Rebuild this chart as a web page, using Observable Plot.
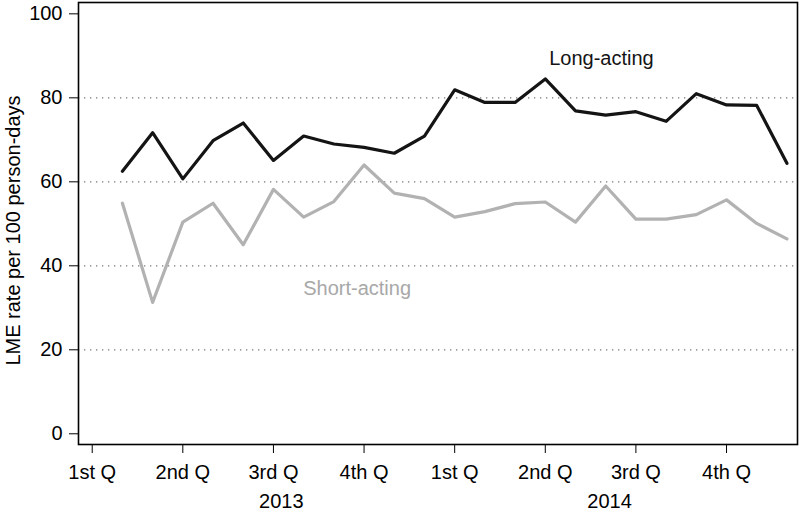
<!DOCTYPE html>
<html><head><meta charset="utf-8">
<script src="https://cdn.jsdelivr.net/npm/d3@7"></script>
<script src="https://cdn.jsdelivr.net/npm/@observablehq/plot@0.6"></script>
<style>body{margin:0;background:#fff} svg{display:block}</style>
</head><body><div id="chart"></div>
<script>
const months = [1,2,3,4,5,6,7,8,9,10,11,12,13,14,15,16,17,18,19,20,21,22,23];
const longActing = [62.5,71.7,60.7,69.8,74.0,65.1,70.9,69.0,68.2,66.8,70.9,81.9,78.9,78.9,84.5,76.9,75.9,76.7,74.4,81.0,78.3,78.2,64.4];
const shortActing = [54.9,31.3,50.4,54.9,45.0,58.2,51.6,55.3,64.0,57.3,56.0,51.6,52.9,54.8,55.2,50.4,59.0,51.1,51.1,52.2,55.7,50.1,46.4];
const quarterTicks = [0,3,6,9,12,15,18,21];
const quarterLabels = ["1st Q","2nd Q","3rd Q","4th Q","1st Q","2nd Q","3rd Q","4th Q"];
const years = ["2013","2014"];
const yearCenters = [6.26,17.13];
const yTicks = [0,20,40,60,80,100];
const gridValues = [20,40,60,80];
const seriesNames = ["Long-acting","Short-acting"];
const seriesLabelX = [16.86,8.77];
const seriesLabelY = [89.4,34.6];
const seriesColors = ["#141414","#b2b2b2"];
const labelColors = ["#141414","#a8a8a8"];
const yTitle = "LME rate per 100 person-days";

const chart = Plot.plot({
  width: 800, height: 513,
  marginLeft: 78, marginRight: 3, marginTop: 2, marginBottom: 69,
  style: {fontFamily: "'Liberation Sans', Arial, Helvetica, sans-serif", fontSize: "20px", color: "#000", background: "#fff"},
  x: {domain: [-0.454, 23.35]},
  y: {domain: [-2.55, 102.7]},
  marks: [
    Plot.ruleY(gridValues, {stroke: "#777", strokeDasharray: "1.3,4.7", strokeWidth: 1.2}),
    Plot.line(months, {x: months, y: shortActing, stroke: seriesColors[1], strokeWidth: 3.2}),
    Plot.line(months, {x: months, y: longActing, stroke: seriesColors[0], strokeWidth: 3.2}),
    Plot.text(seriesNames, {x: seriesLabelX, y: seriesLabelY, text: d => d, fill: labelColors, fontSize: 20}),
    Plot.frame({stroke: "#000", strokeWidth: 1.6}),
    Plot.axisY({ticks: yTicks, tickSize: 9, tickPadding: 7, label: null}),
    Plot.text([yTitle], {frameAnchor: "left", y: [48.4], text: d => d, rotate: -90, textAnchor: "middle", dx: -65, fontSize: 20, fill: "#000"}),
    Plot.axisX({ticks: quarterTicks, tickFormat: d => quarterLabels[quarterTicks.indexOf(d)], tickSize: 9, tickPadding: 11, label: null}),
    Plot.axisX({ticks: yearCenters, tickFormat: d => years[yearCenters.indexOf(d)], tickSize: 0, tickPadding: 49, label: null})
  ]
});
document.getElementById("chart").append(chart);
</script>
</body></html>
